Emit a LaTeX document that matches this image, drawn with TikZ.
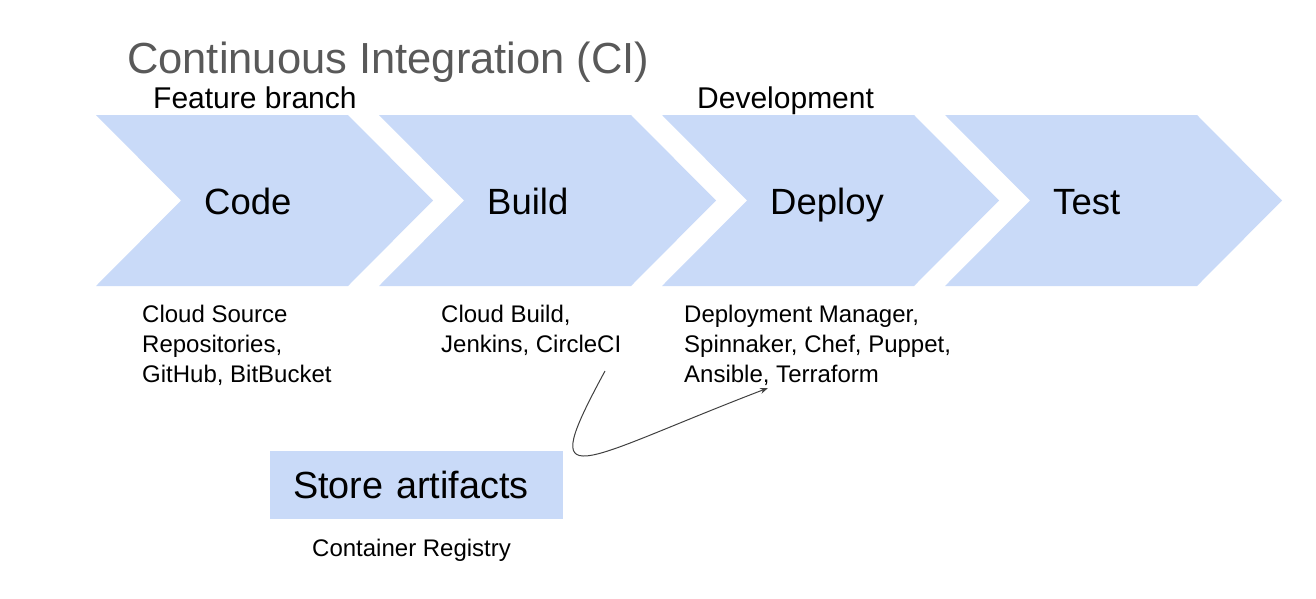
\documentclass[tikz,border=0pt]{standalone}
\usepackage{fontspec}
\setmainfont{Liberation Sans}
\usepackage{xcolor}
\usetikzlibrary{arrows.meta}

\definecolor{chevblue}{HTML}{C9DAF8}
\definecolor{titlegray}{HTML}{595959}
\definecolor{curvegray}{HTML}{404040}

\begin{document}
\begin{tikzpicture}[x=1pt, y=-1pt,
  stage/.style={anchor=base west, inner sep=0pt, font=\fontsize{36.5}{43}\selectfont},
  lane/.style={anchor=base west, inner sep=0pt, font=\fontsize{30}{36}\selectfont},
  tools/.style={anchor=north west, inner sep=0pt, align=left, font=\fontsize{24}{30}\selectfont}]
\useasboundingbox (0,0) rectangle (1316,598);

% chevrons
\foreach \x/\n/\t in {96/code/Code, 379/build/Build, 662/deploy/Deploy, 945/test/Test} {
  \fill [chevblue] (\x,115) -- ++(252,0) -- ++(85,85.5) -- ++(-85,85.5) -- ++(-252,0) -- ++(85,-85.5) -- cycle;
  \node (\n) at (\x+108,214) [stage] {\t};
}

\node (title) at (127,73) [anchor=base west, inner sep=0pt, text=titlegray, font=\fontsize{43.5}{50}\selectfont] {Continuous Integration (CI)};
\node (feature) at (153,108) [lane] {Feature branch};
\node (development) at (697,108) [lane] {Development};

\node (codetools) at (142,305) [tools] {Cloud Source\\Repositories,\\GitHub, BitBucket};
\node (buildtools) at (441,305) [tools] {Cloud Build,\\Jenkins, CircleCI};
\node (deploytools) at (684,305) [tools] {Deployment Manager,\\Spinnaker, Chef, Puppet,\\Ansible, Terraform};

\node (store) at (270,485) [anchor=west, fill=chevblue, minimum height=68pt, text width=247pt, inner xsep=23pt, inner ysep=0pt, align=left, font=\fontsize{37.8}{44}\selectfont] {Store artifacts};
\node (registry) at (312,556) [anchor=base west, inner sep=0pt, font=\fontsize{24}{30}\selectfont] {Container Registry};

\coordinate (from) at (605,371);
\coordinate (to) at (768,388);
\draw [-{Stealth[length=8pt, width=6pt]}, curvegray, line width=1pt] (from) .. controls (535,500) and (575,462) .. (to);
\end{tikzpicture}
\end{document}
